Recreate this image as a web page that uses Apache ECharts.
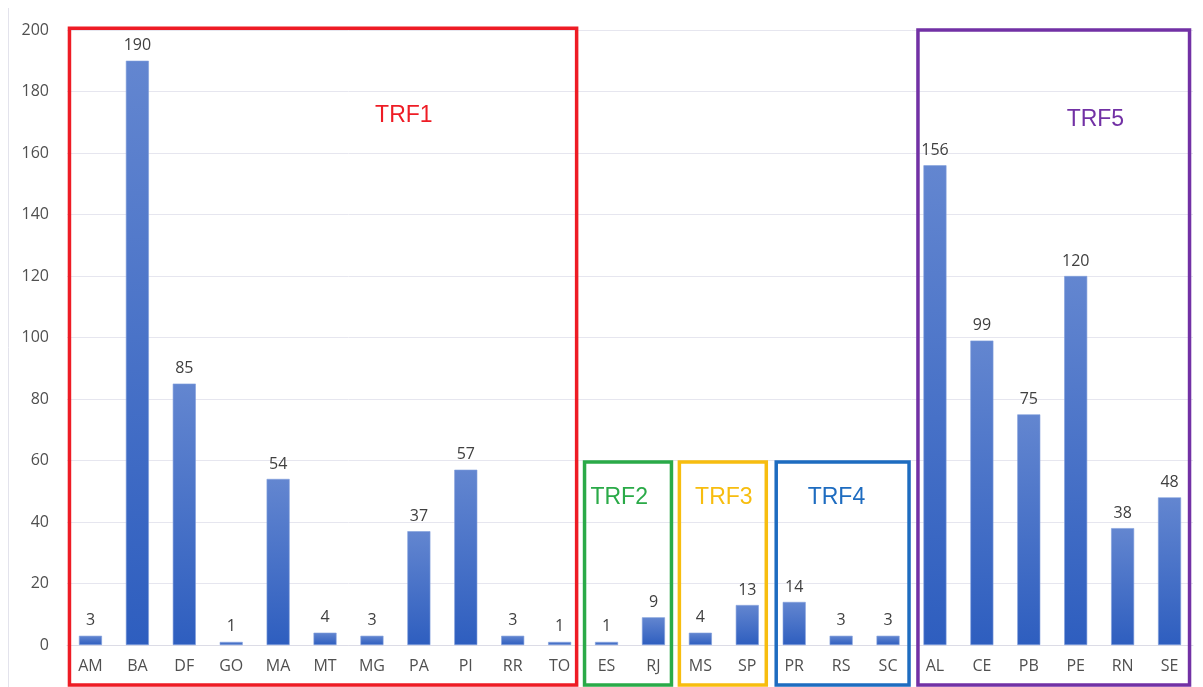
<!DOCTYPE html>
<html><head><meta charset="utf-8">
<script src="https://cdn.jsdelivr.net/npm/echarts@6/dist/echarts.min.js"></script>
<style>html,body{margin:0;padding:0;background:#fff}#c{width:1203px;height:687px}</style>
</head><body><div id="c"></div>
<script>
const categories = ['AM','BA','DF','GO','MA','MT','MG','PA','PI','RR','TO','ES','RJ','MS','SP','PR','RS','SC','AL','CE','PB','PE','RN','SE'];
const values = [3,190,85,1,54,4,3,37,57,3,1,1,9,4,13,14,3,3,156,99,75,120,38,48];
const yTicks = [0,20,40,60,80,100,120,140,160,180,200];
const groups = [
  {name:'TRF1', first:'AM', last:'TO', top:200.6, color:'#ee1c25', labelCat:6.68, labelVal:172},
  {name:'TRF2', first:'ES', last:'RJ', top:59.5, color:'#2aaa48', labelCat:11.27, labelVal:48},
  {name:'TRF3', first:'MS', last:'SP', top:59.5, color:'#f7bd0f', labelCat:13.5, labelVal:48},
  {name:'TRF4', first:'PR', last:'SC', top:59.5, color:'#1e6cc0', labelCat:15.9, labelVal:48},
  {name:'TRF5', first:'AL', last:'SE', top:200, color:'#7231a5', labelCat:21.42, labelVal:171}
];
const boxPad = [[-21,17],[-22,18],[-21,19],[-18,21],[-17,20]];

const chart = echarts.init(document.getElementById('c'));
const font = '"Open Sans", "Liberation Sans", sans-serif';
chart.setOption({
  animation:false,
  grid:{left:67, right:10, top:30, bottom:42},
  xAxis:{type:'category', data:categories,
    axisLine:{show:true, lineStyle:{color:'#dcdce6'}}, axisTick:{show:false},
    axisLabel:{color:'#505050', fontSize:16, fontFamily:font, margin:13, interval:0}},
  yAxis:{type:'value', min:0, max:200, interval:20,
    axisLine:{show:false}, axisTick:{show:false},
    splitLine:{lineStyle:{color:'#e6e6ef', width:1}},
    axisLabel:{color:'#505050', fontSize:16, fontFamily:font, margin:18,
      formatter:v=>yTicks.includes(v)?String(v):''}},
  series:[{type:'bar', data:values, barWidth:23,
    itemStyle:{color:new echarts.graphic.LinearGradient(0,0,0,1,[{offset:0,color:'#6386d0'},{offset:1,color:'#2e5ebf'}]),
      borderColor:'#7f9edc', borderWidth:0.6},
    label:{show:true, position:'top', distance:7, color:'#404040', fontSize:16, fontFamily:font}}]
});

function drawBoxes(){
  const g = [];
  g.push({type:'line', shape:{x1:8.5,y1:8,x2:8.5,y2:687}, style:{stroke:'#e3e3ec', lineWidth:1}, silent:true});
  const step = chart.convertToPixel({xAxisIndex:0},1)-chart.convertToPixel({xAxisIndex:0},0);
  groups.forEach((gr,k)=>{
    const i0 = categories.indexOf(gr.first), i1 = categories.indexOf(gr.last);
    const x0 = chart.convertToPixel({xAxisIndex:0}, i0) + boxPad[k][0];
    const x1 = chart.convertToPixel({xAxisIndex:0}, i1) + boxPad[k][1];
    const yTop = chart.convertToPixel({yAxisIndex:0}, gr.top);
    const yBot = 685;
    g.push({type:'rect', shape:{x:x0, y:yTop, width:x1-x0, height:yBot-yTop},
      style:{fill:'none', stroke:gr.color, lineWidth:3.5}, silent:true, z:10});
    const fl = Math.floor(gr.labelCat);
    const lx = chart.convertToPixel({xAxisIndex:0}, fl) + (gr.labelCat-fl)*step;
    const ly = chart.convertToPixel({yAxisIndex:0}, gr.labelVal);
    g.push({type:'text', x:lx, y:ly, style:{text:gr.name, fill:gr.color, font:'23px "Liberation Sans", Arial, sans-serif', textAlign:'center', textVerticalAlign:'middle'}, silent:true, z:11});
  });
  chart.setOption({graphic:g});
}
drawBoxes();
</script></body></html>
